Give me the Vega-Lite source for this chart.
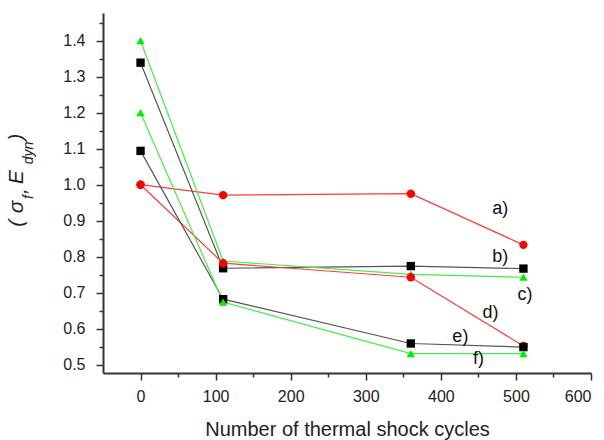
{
  "$schema": "https://vega.github.io/schema/vega-lite/v6.json",
  "width": 488,
  "height": 360,
  "autosize": {"type": "none"},
  "padding": {"left": 103, "top": 13, "right": 13, "bottom": 67},
  "background": "white",
  "config": {
    "view": {"stroke": null},
    "font": "Liberation Sans",
    "axis": {"grid": false, "domainColor": "#333", "domainWidth": 2, "tickColor": "#333", "tickWidth": 1.5, "labelColor": "#222", "titleColor": "#222", "labelFont": "Liberation Sans", "titleFont": "Liberation Sans", "titleFontWeight": "normal", "labelOverlap": false}
  },
  "datasets": {
    "points": [
      {"s": "a", "x": 0, "y": 1.0}, {"s": "a", "x": 110, "y": 0.971}, {"s": "a", "x": 360, "y": 0.975}, {"s": "a", "x": 510, "y": 0.833},
      {"s": "b", "x": 0, "y": 1.339}, {"s": "b", "x": 110, "y": 0.768}, {"s": "b", "x": 360, "y": 0.774}, {"s": "b", "x": 510, "y": 0.767},
      {"s": "c", "x": 0, "y": 1.40}, {"s": "c", "x": 110, "y": 0.788}, {"s": "c", "x": 360, "y": 0.751}, {"s": "c", "x": 510, "y": 0.743},
      {"s": "d", "x": 0, "y": 1.0}, {"s": "d", "x": 110, "y": 0.782}, {"s": "d", "x": 360, "y": 0.743}, {"s": "d", "x": 510, "y": 0.552},
      {"s": "e", "x": 0, "y": 1.094}, {"s": "e", "x": 110, "y": 0.682}, {"s": "e", "x": 360, "y": 0.559}, {"s": "e", "x": 510, "y": 0.549},
      {"s": "f", "x": 0, "y": 1.20}, {"s": "f", "x": 110, "y": 0.674}, {"s": "f", "x": 360, "y": 0.531}, {"s": "f", "x": 510, "y": 0.531}
    ],
    "labels": [
      {"t": "a)", "x": 479, "y": 0.932},
      {"t": "b)", "x": 479, "y": 0.80},
      {"t": "c)", "x": 512, "y": 0.694},
      {"t": "d)", "x": 466, "y": 0.643},
      {"t": "e)", "x": 426, "y": 0.578},
      {"t": "f)", "x": 450, "y": 0.515}
    ],
    "ytitle": [
      {"t": "(", "role": "main", "x": -164, "y": 0.893},
      {"t": "σ", "role": "main", "x": -164, "y": 0.938},
      {"t": "f", "role": "sub", "x": -148, "y": 0.966},
      {"t": ",", "role": "main", "x": -160, "y": 0.982},
      {"t": "E", "role": "main", "x": -164, "y": 1.021},
      {"t": "dyn", "role": "sub", "x": -148, "y": 1.088},
      {"t": ")", "role": "main", "x": -164, "y": 1.132}
    ]
  },
  "layer": [
    {
      "data": {"name": "points"},
      "mark": {"type": "line", "strokeWidth": 1.2},
      "encoding": {
        "x": {
          "field": "x", "type": "quantitative",
          "scale": {"domain": [-50, 600], "nice": false, "zero": false},
          "axis": {
            "title": "Number of thermal shock cycles",
            "titleFontSize": 20, "titleY": 56, "titleBaseline": "middle",
            "values": [0, 50, 100, 150, 200, 250, 300, 350, 400, 450, 500, 550, 600],
            "labelExpr": "datum.value % 100 === 0 ? datum.label : ''",
            "labelFontSize": 16, "labelPadding": 8, "labelOverlap": false,
            "tickSize": {"condition": {"test": "datum.value % 100 === 0", "value": 7}, "value": 4}
          }
        },
        "y": {
          "field": "y", "type": "quantitative",
          "scale": {"domain": [0.477, 1.477], "nice": false, "zero": false},
          "axis": {
            "title": null,
            "values": [0.5, 0.6, 0.7, 0.8, 0.9, 1.0, 1.1, 1.2, 1.3, 1.4],
            "format": ".1f",
            "labelFontSize": 16, "labelPadding": 11, "labelOverlap": false,
            "tickSize": 7
          }
        },
        "detail": {"field": "s"},
        "color": {
          "field": "s", "type": "nominal", "legend": null,
          "scale": {"domain": ["a", "b", "c", "d", "e", "f"], "range": ["#ff3b3b", "#555555", "#44ee44", "#ff3b3b", "#555555", "#44ee44"]}
        }
      }
    },
    {
      "data": {"name": "points"},
      "mark": {"type": "point", "filled": true, "opacity": 1, "size": 70},
      "encoding": {
        "x": {"field": "x", "type": "quantitative"},
        "y": {
          "field": "y", "type": "quantitative",
          "axis": {
            "title": null, "orient": "left", "labels": false, "domain": false,
            "values": [0.55, 0.65, 0.75, 0.85, 0.95, 1.05, 1.15, 1.25, 1.35, 1.45],
            "tickSize": 4
          }
        },
        "shape": {
          "field": "s", "type": "nominal", "legend": null,
          "scale": {"domain": ["a", "b", "c", "d", "e", "f"], "range": ["circle", "square", "triangle-up", "circle", "square", "triangle-up"]}
        },
        "color": {
          "field": "s", "type": "nominal", "legend": null,
          "scale": {"domain": ["a", "b", "c", "d", "e", "f"], "range": ["#ff0000", "#000000", "#00ee00", "#ff0000", "#000000", "#00ee00"]}
        }
      }
    },
    {
      "data": {"name": "labels"},
      "mark": {"type": "text", "fontSize": 18, "color": "#111", "font": "Liberation Sans"},
      "encoding": {
        "x": {"field": "x", "type": "quantitative"},
        "y": {"field": "y", "type": "quantitative", "axis": null},
        "text": {"field": "t"}
      }
    },
    {
      "data": {"name": "ytitle"},
      "transform": [{"filter": "datum.role === 'main'"}],
      "mark": {"type": "text", "fontSize": 21, "fontStyle": "italic", "angle": 270, "align": "center", "baseline": "middle", "color": "#222", "font": "Liberation Sans", "clip": false},
      "encoding": {
        "x": {"field": "x", "type": "quantitative"},
        "y": {"field": "y", "type": "quantitative", "axis": null},
        "text": {"field": "t"}
      }
    },
    {
      "data": {"name": "ytitle"},
      "transform": [{"filter": "datum.role === 'sub'"}],
      "mark": {"type": "text", "fontSize": 14, "fontStyle": "italic", "angle": 270, "align": "center", "baseline": "middle", "color": "#222", "font": "Liberation Sans", "clip": false},
      "encoding": {
        "x": {"field": "x", "type": "quantitative"},
        "y": {"field": "y", "type": "quantitative", "axis": null},
        "text": {"field": "t"}
      }
    }
  ],
  "resolve": {"scale": {"color": "independent"}, "axis": {"y": "independent"}}
}
